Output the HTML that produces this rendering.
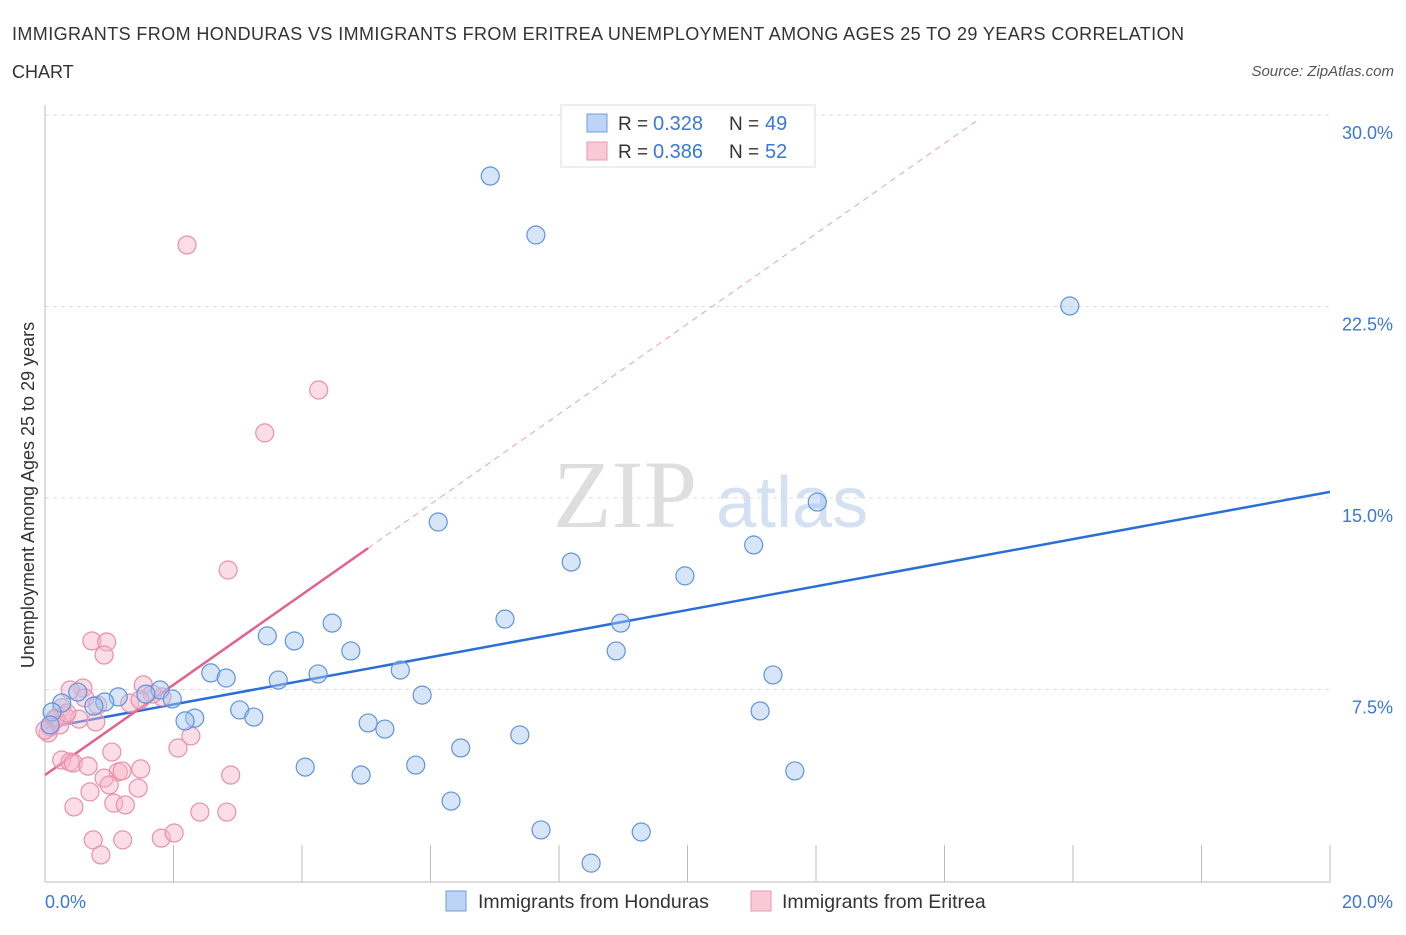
<!DOCTYPE html>
<html><head><meta charset="utf-8"><style>
body{margin:0;background:#fff;font-family:"Liberation Sans",sans-serif;}
svg text{font-family:"Liberation Sans",sans-serif;}
</style></head><body>
<svg id="chart" width="1406" height="930" xmlns="http://www.w3.org/2000/svg">
<text x="12" y="40" font-size="18" fill="#333" textLength="1172" lengthAdjust="spacing">IMMIGRANTS FROM HONDURAS VS IMMIGRANTS FROM ERITREA UNEMPLOYMENT AMONG AGES 25 TO 29 YEARS CORRELATION</text>
<text x="12" y="78" font-size="18" fill="#333">CHART</text>
<text x="1394" y="76" font-size="15" fill="#555" font-style="italic" text-anchor="end">Source: ZipAtlas.com</text>
<text x="553" y="527" font-size="96" fill="#dedede" style="font-family:'Liberation Serif',serif">ZIP</text>
<text x="716" y="527" font-size="72" fill="#d3e1f3">atlas</text>
<g id="grid"></g>
<g id="axes"></g>
<g id="lines"></g>
<g id="points"></g>
<text transform="translate(34,495) rotate(-90)" font-size="18" fill="#333" text-anchor="middle">Unemployment Among Ages 25 to 29 years</text>
<text x="45" y="908" font-size="18" fill="#3a78d4">0.0%</text>
<text x="1393" y="908" font-size="18" fill="#3a78d4" text-anchor="end">20.0%</text>
<g>
<rect x="561" y="105" width="254" height="62" fill="#fff" stroke="#ddd"/>
<rect x="587" y="114" width="20" height="18" fill="#bcd4f5" stroke="#6f9de0"/>
<rect x="587" y="142" width="20" height="18" fill="#f9c9d8" stroke="#e89ab3"/>
<text x="618" y="130" font-size="19" fill="#333">R =</text>
<text x="653" y="130" font-size="20" fill="#3a78d4">0.328</text>
<text x="729" y="130" font-size="19" fill="#333">N =</text>
<text x="765" y="130" font-size="20" fill="#3a78d4">49</text>
<text x="618" y="158" font-size="19" fill="#333">R =</text>
<text x="653" y="158" font-size="20" fill="#3a78d4">0.386</text>
<text x="729" y="158" font-size="19" fill="#333">N =</text>
<text x="765" y="158" font-size="20" fill="#3a78d4">52</text>
</g>
<g>
<rect x="446" y="891" width="20" height="20" fill="#bcd4f5" stroke="#6f9de0"/>
<text x="478" y="908" font-size="19.5" fill="#333">Immigrants from Honduras</text>
<rect x="751" y="891" width="20" height="20" fill="#f9c9d8" stroke="#e89ab3"/>
<text x="782" y="908" font-size="19.5" fill="#333">Immigrants from Eritrea</text>
</g>
</svg>
<script>
const yTicks=[7.5,15,22.5,30];
const yTickLabels=["7.5%","15.0%","22.5%","30.0%"];
const xTicks=[0,2,4,6,8,10,12,14,16,18,20];
const hondurasX=[6.93,7.64,15.95,12.02,6.12,8.19,11.03,9.96,7.16,8.96,4.47,3.46,3.88,4.76,8.89,2.58,2.82,4.25,5.53,3.63,11.33,1.79,1.14,1.98,1.57,0.93,0.51,0.76,0.26,3.03,3.25,2.33,2.18,5.03,5.29,5.87,11.13,6.47,7.39,4.05,4.92,5.77,11.67,6.32,7.72,9.28,8.50,0.11,0.08];
const hondurasY=[27.61,25.30,22.52,14.84,14.06,12.49,13.16,11.95,10.26,10.10,10.10,9.60,9.40,9.01,9.01,8.15,7.95,8.11,8.26,7.87,8.07,7.48,7.21,7.13,7.32,7.01,7.40,6.85,6.97,6.70,6.42,6.38,6.27,6.19,5.95,7.28,6.66,5.21,5.72,4.46,4.15,4.54,4.31,3.13,2.00,1.92,0.70,6.62,6.11];
const eritreaX=[2.21,4.26,3.42,2.85,0.73,0.96,0.92,1.53,0.59,0.39,0.62,0.82,0.26,0.31,0.53,0.79,0.16,0.08,0.05,1.82,1.67,2.27,2.07,1.04,0.26,0.39,0.44,0.67,2.89,1.49,1.14,1.20,0.92,1.45,1.00,0.70,1.07,1.25,0.45,2.41,2.83,0.75,1.21,1.81,2.01,0.87,0.16,0.23,0.00,0.34,1.32,1.48];
const eritreaY=[24.91,19.23,17.55,12.18,9.40,9.36,8.85,7.68,7.56,7.48,7.17,6.89,6.78,6.46,6.34,6.23,6.31,6.03,5.80,7.21,7.32,5.68,5.21,5.05,4.74,4.66,4.62,4.50,4.15,4.39,4.27,4.31,4.03,3.64,3.76,3.49,3.05,2.98,2.90,2.70,2.70,1.61,1.61,1.68,1.88,1.02,6.38,6.11,5.91,6.58,6.97,7.09];
const hondurasTrend=[5.99,15.24];
const eritreaTrend=[4.15,1.767];
const NS="http://www.w3.org/2000/svg";
const X=v=>45+v/20*1285, Y=v=>881-v/30*766;
function mk(t,a,p){const e=document.createElementNS(NS,t);for(const k in a)e.setAttribute(k,a[k]);p.appendChild(e);return e;}
const grid=document.getElementById('grid'),axes=document.getElementById('axes'),lines=document.getElementById('lines'),pts=document.getElementById('points');
yTicks.forEach((t,i)=>{
 const l=mk('line',{x1:45,x2:1330,y1:Y(t),y2:Y(t),stroke:'#ddd','stroke-dasharray':'4,4'},grid);
 
 
 const tx=mk('text',{x:1393,y:Y(t)+24,'font-size':18,fill:'#3a78d4','text-anchor':'end'},grid);
 tx.textContent=yTickLabels[i];
 
 
});
const xa=mk('line',{x1:45,x2:1330,y1:882,y2:882,stroke:'#bbb'},axes);


const ya=mk('line',{x1:45,x2:45,y1:105,y2:882,stroke:'#bbb'},axes);


xTicks.forEach(t=>{
 const l=mk('line',{x1:X(t),x2:X(t),y1:845,y2:882,stroke:'#bbb'},axes);
 
 
});
function dot(x,y,fill,stroke,name){
 const c=mk('circle',{cx:X(x),cy:Y(y),r:9,fill:fill,stroke:stroke,'stroke-width':1.2},pts);
 
 
}
eritreaX.forEach((x,i)=>dot(x,eritreaY[i],'rgba(246,180,200,0.45)','#e890ad','eritrea-point'));
hondurasX.forEach((x,i)=>dot(x,hondurasY[i],'rgba(165,198,240,0.45)','#5f93dc','honduras-point'));
const bl=mk('line',{x1:X(0),y1:Y(hondurasTrend[0]),x2:X(20),y2:Y(hondurasTrend[1]),stroke:'#2a6fd6','stroke-width':2.5},lines);


const pe=x=>eritreaTrend[0]+eritreaTrend[1]*x;
const ps=mk('line',{x1:X(0),y1:Y(pe(0)),x2:X(5.03),y2:Y(pe(5.03)),stroke:'#e2628c','stroke-width':2.5},lines);


const pd=mk('line',{x1:X(5.03),y1:Y(pe(5.03)),x2:X(14.5),y2:Y(pe(14.5)),stroke:'#eaa0b8','stroke-width':1,'stroke-dasharray':'6,5'},lines);


</script>
</body></html>
